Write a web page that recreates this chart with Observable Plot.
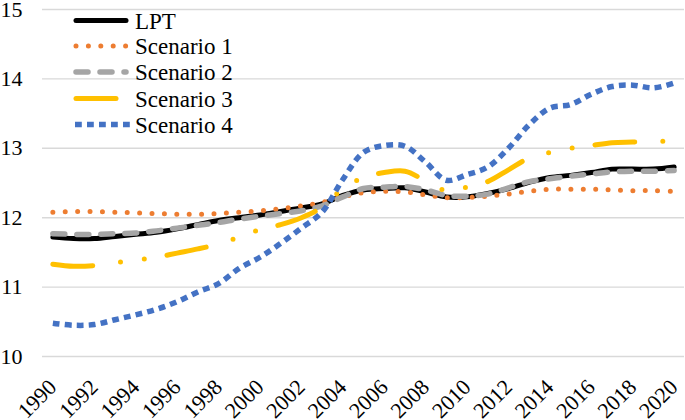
<!DOCTYPE html>
<html><head><meta charset="utf-8">
<script src="https://cdn.jsdelivr.net/npm/d3@7"></script>
<script src="https://cdn.jsdelivr.net/npm/@observablehq/plot@0.6"></script>
<style>
body{margin:0;background:#fff;}
#wrap{position:relative;width:685px;height:420px;overflow:hidden;background:#fff;}
#legend{position:absolute;left:0;top:0;}
</style></head><body><div id="wrap"></div>
<script>
const years = [1990,1991,1992,1993,1994,1995,1996,1997,1998,1999,2000,2001,2002,2003,2004,2005,2006,2007,2008,2009,2010,2011,2012,2013,2014,2015,2016,2017,2018,2019,2020];
const seriesNames = ["LPT","Scenario 1","Scenario 2","Scenario 3","Scenario 4"];
const lpt = [11.72,11.70,11.70,11.73,11.76,11.79,11.84,11.90,11.96,12.00,12.04,12.09,12.14,12.20,12.32,12.40,12.42,12.43,12.37,12.30,12.30,12.35,12.42,12.51,12.58,12.61,12.65,12.70,12.70,12.70,12.73];
const scenario1 = [12.08,12.09,12.09,12.08,12.07,12.06,12.05,12.05,12.06,12.08,12.10,12.13,12.17,12.22,12.30,12.36,12.38,12.37,12.33,12.29,12.29,12.31,12.34,12.38,12.41,12.41,12.41,12.40,12.39,12.39,12.38];
const scenario2 = [11.77,11.76,11.76,11.77,11.78,11.81,11.85,11.89,11.93,11.98,12.02,12.06,12.10,12.17,12.30,12.42,12.44,12.45,12.40,12.32,12.31,12.34,12.43,12.52,12.56,12.60,12.63,12.66,12.67,12.67,12.68];
const scenario3 = [11.33,11.30,11.31,11.35,11.39,11.43,11.49,11.55,11.62,11.72,11.83,11.90,12.00,12.15,12.42,12.58,12.65,12.67,12.53,12.39,12.44,12.52,12.69,12.86,12.94,13.00,13.04,13.08,13.09,13.10,13.10];
const scenario4 = [10.48,10.45,10.46,10.53,10.60,10.68,10.79,10.93,11.05,11.27,11.43,11.63,11.85,12.08,12.55,12.94,13.04,13.03,12.80,12.54,12.62,12.73,13.00,13.34,13.58,13.63,13.78,13.89,13.91,13.87,13.94];
const yTicks = [10,11,12,13,14,15];
const xTicks = [1990,1992,1994,1996,1998,2000,2002,2004,2006,2008,2010,2012,2014,2016,2018,2020];

const seriesValues = [lpt, scenario1, scenario2, scenario3, scenario4];
const styles = {
  "LPT":        {stroke:"#000000", width:5,   dash:null,               cap:"round"},
  "Scenario 1": {stroke:"#ED7D31", width:5,   dash:"0 12.4",           cap:"round"},
  "Scenario 2": {stroke:"#A5A5A5", width:5.5, dash:"12 12",            cap:"round"},
  "Scenario 3": {stroke:"#FFC000", width:5,   dash:"40 28 0 24 0 23",  cap:"round"},
  "Scenario 4": {stroke:"#4472C4", width:5.5, dash:"6.8 5.2",          cap:"butt"}
};
const FONT = "Liberation Serif";

const rows = seriesNames.flatMap((name, i) => years.map((year, j) => ({name, year, value: seriesValues[i][j]})));

const chart = Plot.plot({
  width: 685, height: 420,
  marginLeft: 42, marginRight: 1, marginTop: 9, marginBottom: 64,
  x: {domain: [1989.5, 2020.5]},
  y: {domain: [10, 15]},
  style: {fontFamily: FONT, fontSize: "22px", color: "#000", background: "#fff", overflow: "visible"},
  marks: [
    Plot.gridY(yTicks, {stroke: "#d9d9d9", strokeOpacity: 1, strokeWidth: 1.4}),
    Plot.axisY(yTicks, {tickSize: 0, tickPadding: 20, fontSize: 22, label: null, tickFormat: d => String(d)}),
    Plot.axisX(xTicks, {tickSize: 0, tickPadding: 27, tickRotate: -45, fontSize: 22, label: null, tickFormat: d => String(d)}),
    ...seriesNames.map(name => Plot.line(rows.filter(d => d.name === name), {
      x: "year", y: "value", curve: "catmull-rom",
      stroke: styles[name].stroke, strokeWidth: styles[name].width,
      strokeDasharray: styles[name].dash, strokeLinecap: styles[name].cap, strokeLinejoin: "round"
    }))
  ]
});
d3.select(chart).attr("font-family", FONT).selectAll("g, text").attr("font-family", FONT);
const wrap = document.getElementById("wrap");
wrap.appendChild(chart);

// legend overlay
const leg = d3.select(wrap).append("svg").attr("id", "legend").attr("width", 300).attr("height", 140)
  .attr("font-family", FONT);
const rowY = [20.5, 46, 72, 98.5, 124.5];
seriesNames.forEach((name, i) => {
  const s = styles[name];
  const g = leg.append("g").attr("transform", `translate(0,${rowY[i]})`);
  const butt = s.cap === "butt";
  g.append("line").attr("x1", butt ? 75 : 76).attr("x2", butt ? 130 : 126).attr("y1", 0).attr("y2", 0)
    .attr("stroke", s.stroke).attr("stroke-width", s.width)
    .attr("stroke-dasharray", s.dash).attr("stroke-linecap", s.cap);
  g.append("text").attr("x", 135).attr("y", 0).attr("dy", "0.35em")
    .attr("font-family", FONT).attr("font-size", 23).attr("fill", "#000").text(name);
});
</script></body></html>
